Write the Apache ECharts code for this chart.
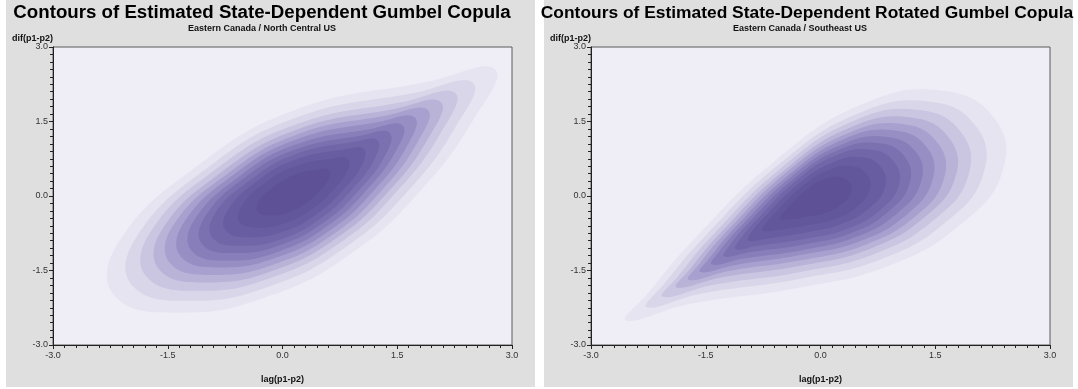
<!DOCTYPE html>
<html>
<head>
<meta charset="utf-8">
<script src="https://cdn.jsdelivr.net/npm/echarts@6/dist/echarts.min.js"></script>
<style>
  html, body { margin: 0; padding: 0; background: #ffffff; }
  #chart { width: 1078px; height: 389px; }
</style>
</head>
<body>
<div id="chart"></div>
<script>
// Axis range shared by both panels
const axisMin = -3.0;
const axisMax = 3.0;
const axisStep = 1.5;

// Panel titles
const titles = [
  'Contours of Estimated State-Dependent Gumbel Copula',
  'Contours of Estimated State-Dependent Rotated Gumbel Copula'
];
const subtitles = ['Eastern Canada / North Central US', 'Eastern Canada / Southeast US'];
const xName = 'lag(p1-p2)';
const yName = 'dif(p1-p2)';

// Density contours, outermost level first: each level is a closed outline of [lag, dif] points
const gumbelLevels = [
  [[2.78,2.55],[1.90,2.30],[0.20,1.75],[-1.10,0.62],[-2.15,-0.95],[-2.20,-2.00],[-1.35,-2.35],[-0.15,-2.00],[0.95,-1.10],[1.80,0.10],[2.48,1.50]],
  [[2.49,2.28],[1.73,2.08],[0.20,1.59],[-0.98,0.57],[-1.92,-0.85],[-1.97,-1.79],[-1.20,-2.11],[-0.12,-1.79],[0.87,-0.98],[1.64,0.10],[2.25,1.36]],
  [[2.26,2.07],[1.59,1.90],[0.19,1.45],[-0.88,0.53],[-1.74,-0.76],[-1.78,-1.62],[-1.08,-1.91],[-0.10,-1.62],[0.81,-0.88],[1.50,0.10],[2.06,1.25]],
  [[2.07,1.89],[1.46,1.75],[0.19,1.34],[-0.79,0.49],[-1.58,-0.69],[-1.61,-1.48],[-0.98,-1.74],[-0.08,-1.48],[0.75,-0.80],[1.39,0.10],[1.90,1.15]],
  [[1.90,1.73],[1.36,1.62],[0.19,1.24],[-0.71,0.46],[-1.44,-0.62],[-1.47,-1.35],[-0.89,-1.59],[-0.06,-1.35],[0.70,-0.73],[1.29,0.10],[1.76,1.07]],
  [[1.73,1.58],[1.25,1.49],[0.18,1.14],[-0.64,0.43],[-1.30,-0.56],[-1.33,-1.22],[-0.80,-1.44],[-0.04,-1.22],[0.65,-0.66],[1.19,0.10],[1.62,0.98]],
  [[1.57,1.42],[1.15,1.35],[0.18,1.04],[-0.56,0.40],[-1.16,-0.50],[-1.19,-1.10],[-0.71,-1.30],[-0.02,-1.10],[0.61,-0.58],[1.09,0.10],[1.48,0.90]],
  [[1.40,1.27],[1.04,1.22],[0.18,0.94],[-0.49,0.37],[-1.02,-0.44],[-1.05,-0.97],[-0.62,-1.15],[0.00,-0.97],[0.56,-0.51],[0.99,0.10],[1.34,0.81]],
  [[1.24,1.12],[0.94,1.09],[0.17,0.84],[-0.41,0.33],[-0.89,-0.37],[-0.91,-0.85],[-0.53,-1.00],[0.02,-0.85],[0.51,-0.44],[0.89,0.10],[1.20,0.73]],
  [[1.06,0.95],[0.82,0.94],[0.17,0.73],[-0.33,0.30],[-0.72,-0.30],[-0.74,-0.70],[-0.42,-0.83],[0.04,-0.70],[0.45,-0.36],[0.78,0.10],[1.04,0.63]],
  [[0.85,0.75],[0.68,0.76],[0.17,0.60],[-0.23,0.26],[-0.54,-0.22],[-0.56,-0.53],[-0.30,-0.64],[0.06,-0.53],[0.39,-0.26],[0.65,0.10],[0.85,0.52]],
  [[0.60,0.52],[0.50,0.54],[0.16,0.43],[-0.10,0.20],[-0.31,-0.11],[-0.32,-0.32],[-0.15,-0.39],[0.09,-0.32],[0.31,-0.14],[0.48,0.10],[0.62,0.38]]
];

const rotatedLevels = [
  [[-2.54,-2.51],[-1.70,-2.17],[-0.30,-1.85],[0.90,-1.40],[1.85,-0.55],[2.38,0.50],[2.28,1.55],[1.60,2.12],[0.55,1.85],[-0.60,0.70],[-1.70,-0.95],[-2.25,-1.95]],
  [[-2.27,-2.24],[-1.54,-1.96],[-0.28,-1.67],[0.80,-1.27],[1.66,-0.50],[2.13,0.45],[2.04,1.39],[1.43,1.90],[0.49,1.66],[-0.55,0.63],[-1.54,-0.86],[-2.04,-1.76]],
  [[-2.06,-2.03],[-1.41,-1.79],[-0.26,-1.53],[0.72,-1.16],[1.50,-0.46],[1.93,0.40],[1.85,1.26],[1.29,1.73],[0.43,1.51],[-0.51,0.57],[-1.41,-0.79],[-1.86,-1.61]],
  [[-1.88,-1.84],[-1.30,-1.64],[-0.25,-1.40],[0.65,-1.06],[1.36,-0.43],[1.76,0.36],[1.69,1.15],[1.18,1.58],[0.39,1.38],[-0.48,0.51],[-1.30,-0.73],[-1.71,-1.48]],
  [[-1.72,-1.69],[-1.20,-1.51],[-0.24,-1.29],[0.59,-0.98],[1.25,-0.40],[1.61,0.33],[1.54,1.05],[1.07,1.45],[0.35,1.26],[-0.45,0.47],[-1.20,-0.67],[-1.58,-1.36]],
  [[-1.57,-1.53],[-1.11,-1.39],[-0.23,-1.18],[0.53,-0.90],[1.13,-0.37],[1.46,0.30],[1.40,0.96],[0.97,1.32],[0.31,1.15],[-0.42,0.42],[-1.11,-0.62],[-1.45,-1.25]],
  [[-1.42,-1.38],[-1.01,-1.26],[-0.21,-1.08],[0.47,-0.82],[1.01,-0.34],[1.31,0.26],[1.26,0.86],[0.87,1.19],[0.27,1.03],[-0.39,0.38],[-1.01,-0.56],[-1.33,-1.13]],
  [[-1.26,-1.22],[-0.92,-1.13],[-0.20,-0.97],[0.41,-0.74],[0.89,-0.31],[1.16,0.23],[1.11,0.77],[0.77,1.06],[0.23,0.92],[-0.36,0.33],[-0.92,-0.51],[-1.20,-1.02]],
  [[-1.11,-1.07],[-0.82,-1.00],[-0.19,-0.86],[0.35,-0.66],[0.78,-0.28],[1.02,0.20],[0.97,0.67],[0.67,0.93],[0.19,0.81],[-0.33,0.29],[-0.82,-0.46],[-1.07,-0.91]],
  [[-0.94,-0.90],[-0.71,-0.86],[-0.18,-0.73],[0.28,-0.56],[0.64,-0.24],[0.84,0.16],[0.80,0.56],[0.55,0.78],[0.15,0.67],[-0.29,0.24],[-0.71,-0.39],[-0.92,-0.77]],
  [[-0.75,-0.70],[-0.58,-0.69],[-0.16,-0.59],[0.20,-0.46],[0.49,-0.20],[0.64,0.12],[0.61,0.43],[0.41,0.60],[0.10,0.52],[-0.25,0.18],[-0.58,-0.32],[-0.75,-0.62]],
  [[-0.52,-0.47],[-0.42,-0.47],[-0.14,-0.41],[0.10,-0.32],[0.29,-0.15],[0.40,0.06],[0.38,0.27],[0.24,0.38],[0.03,0.33],[-0.20,0.10],[-0.42,-0.23],[-0.53,-0.43]]
];

// Fill colours, light (low density) to dark (high density)
const levelColors = [
  '#e6e4f0', '#dad6ea', '#cac5e1', '#b9b3d8', '#a8a0ce', '#978ec4',
  '#887eba', '#7b70b0', '#7166a8', '#695da1', '#63579b', '#5e5196'
];

const FONT = '"Liberation Sans", Arial, Helvetica, sans-serif';
const panelBg = '#dfdfdf';
const plotBg = '#efeef6';

const panels = [
  { left: 6, plotLeft: 53, titleX: 262, subX: 262, titleSize: 18.7, levels: gumbelLevels },
  { left: 544, plotLeft: 591, titleX: 807, subX: 800, titleSize: 17.4, levels: rotatedLevels }
];
const panelWidth = 529;
const plotTop = 47;
const plotW = 459;
const plotH = 305;

const chart = echarts.init(document.getElementById('chart'), null, { renderer: 'canvas' });

const grid = [], xAxis = [], yAxis = [], series = [], graphicEls = [];

panels.forEach((p, i) => {
  grid.push({
    left: p.plotLeft, top: plotTop, width: plotW, height: plotH,
    show: true, backgroundColor: plotBg, borderColor: '#5a5a5a', borderWidth: 1, z: 1
  });
  const axisCommon = {
    type: 'value', min: axisMin, max: axisMax, interval: axisStep,
    gridIndex: i,
    axisLine: { show: true, onZero: false, lineStyle: { color: '#222', width: 1 } },
    axisTick: { show: true, inside: false, length: 4, lineStyle: { color: '#222' } },
    minorTick: { show: true, splitNumber: 10, length: 3, lineStyle: { color: '#222' } },
    splitLine: { show: false },
    axisLabel: {
      show: true, fontFamily: FONT, fontSize: 9, color: '#333',
      formatter: v => v.toFixed(1)
    },
    z: 5
  };
  xAxis.push(Object.assign({}, axisCommon, {
    position: 'bottom',
    axisLabel: Object.assign({}, axisCommon.axisLabel, { margin: 6 }),
    name: xName, nameLocation: 'middle', nameGap: 30,
    nameTextStyle: { fontFamily: FONT, fontSize: 9, fontWeight: 'bold', color: '#111' }
  }));
  yAxis.push(Object.assign({}, axisCommon, {
    position: 'left',
    axisLabel: Object.assign({}, axisCommon.axisLabel, { margin: 5 })
  }));

  series.push({
    type: 'custom',
    xAxisIndex: i, yAxisIndex: i,
    clip: true,
    z: 2,
    silent: true,
    data: p.levels.map((_, k) => [k]),
    encode: { x: -1, y: -1 },
    renderItem: (params, api) => {
      const k = params.dataIndex;
      const pts = p.levels[k].map(pt => api.coord(pt));
      return {
        type: 'polygon',
        shape: { points: pts, smooth: 0.45 },
        style: { fill: levelColors[k], stroke: null }
      };
    }
  });

  graphicEls.push(
    { type: 'rect', z: -10, silent: true,
      shape: { x: p.left, y: 0, width: panelWidth, height: 387 },
      style: { fill: panelBg } },
    { type: 'text', z: 100, x: p.titleX, y: 13,
      style: { text: titles[i], fontFamily: FONT, fontSize: p.titleSize, fontWeight: 'bold',
               fill: '#000', align: 'center', verticalAlign: 'middle' } },
    { type: 'text', z: 100, x: p.subX, y: 29,
      style: { text: subtitles[i], fontFamily: FONT, fontSize: 9, fontWeight: 'bold',
               fill: '#111', align: 'center', verticalAlign: 'middle' } },
    { type: 'text', z: 100, x: p.left + 6, y: 39,
      style: { text: yName, fontFamily: FONT, fontSize: 9, fontWeight: 'bold',
               fill: '#111', align: 'left', verticalAlign: 'middle' } }
  );
});

chart.setOption({
  backgroundColor: '#ffffff',
  animation: false,
  grid, xAxis, yAxis, series,
  graphic: { elements: graphicEls }
});
</script>
</body>
</html>
